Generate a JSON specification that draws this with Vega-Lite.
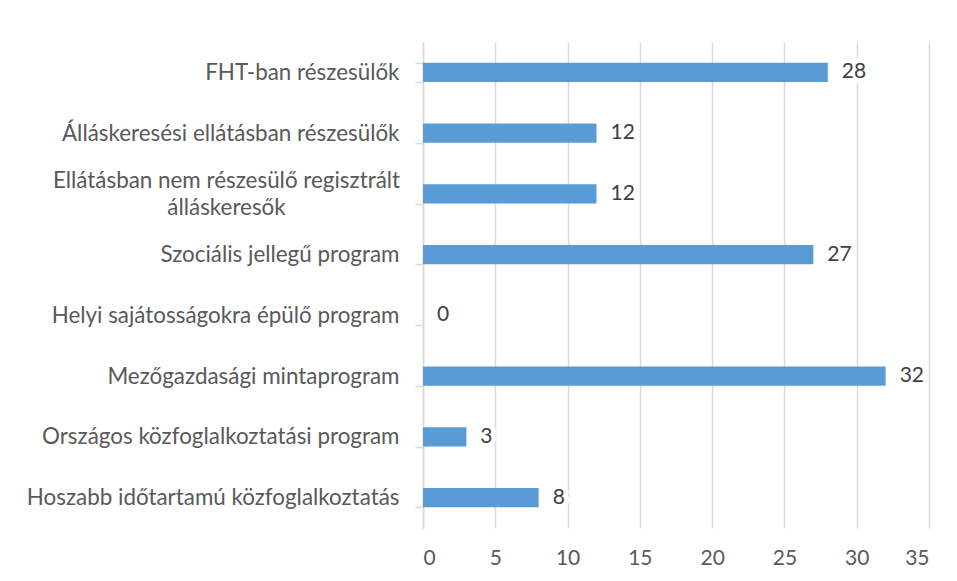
{
  "$schema": "https://vega.github.io/schema/vega-lite/v6.json",
  "width": 506,
  "height": 486,
  "autosize": {"type": "none"},
  "padding": {"left": 423, "top": 42, "right": 28, "bottom": 53},
  "background": "white",
  "config": {
    "view": {"stroke": null},
    "font": "Lato"
  },
  "data": {
    "values": [
      {"category": "FHT-ban részesülők", "value": 28},
      {"category": "Álláskeresési ellátásban részesülők", "value": 12},
      {"category": "Ellátásban nem részesülő regisztrált álláskeresők", "value": 12},
      {"category": "Szociális jellegű program", "value": 27},
      {"category": "Helyi sajátosságokra épülő program", "value": 0},
      {"category": "Mezőgazdasági mintaprogram", "value": 32},
      {"category": "Országos közfoglalkoztatási program", "value": 3},
      {"category": "Hoszabb időtartamú közfoglalkoztatás", "value": 8}
    ]
  },
  "encoding": {
    "y": {
      "field": "category",
      "type": "nominal",
      "sort": null,
      "scale": {"paddingInner": 0.68, "paddingOuter": 0.34},
      "axis": {
        "title": null,
        "domainColor": "#d9d9d9",
        "domainWidth": 1.5,
        "tickColor": "#d9d9d9",
        "tickWidth": 1.5,
        "tickSize": 8,
        "tickBand": "extent",
        "labelPadding": {"condition": {"test": "datum.value == 'Ellátásban nem részesülő regisztrált álláskeresők'", "value": 189}, "value": 16},
        "labelAlign": {"condition": {"test": "datum.value == 'Ellátásban nem részesülő regisztrált álláskeresők'", "value": "center"}, "value": "right"},
        "labelOffset": {"condition": {"test": "datum.value == 'Ellátásban nem részesülő regisztrált álláskeresők'", "value": -13}, "value": 0},
        "labelFontSize": 22.4,
        "labelColor": "#595959",
        "labelLimit": 420,
        "labelLineHeight": 27,
        "labelExpr": "datum.value == 'Ellátásban nem részesülő regisztrált álláskeresők' ? ['Ellátásban nem részesülő regisztrált', 'álláskeresők'] : datum.value"
      }
    }
  },
  "layer": [
    {
      "mark": {"type": "bar", "color": "#5b9bd5"},
      "encoding": {
        "x": {
          "field": "value",
          "type": "quantitative",
          "scale": {"domain": [0, 35], "nice": false},
          "axis": {
            "title": null,
            "values": [0, 5, 10, 15, 20, 25, 30, 35],
            "domain": false,
            "ticks": false,
            "grid": true,
            "gridColor": "#d9d9d9",
            "gridWidth": 1.5,
            "labelPadding": 19,
            "labelFontSize": 21,
            "labelColor": "#595959"
          }
        }
      }
    },
    {
      "mark": {"type": "text", "align": "left", "baseline": "middle", "dx": 14, "fontSize": 21, "stroke": "white", "strokeWidth": 10, "strokeJoin": "round", "fill": "white"},
      "encoding": {
        "x": {"field": "value", "type": "quantitative"},
        "text": {"field": "value", "type": "quantitative"}
      }
    },
    {
      "mark": {"type": "text", "align": "left", "baseline": "middle", "dx": 14, "fontSize": 21, "color": "#404040"},
      "encoding": {
        "x": {"field": "value", "type": "quantitative"},
        "text": {"field": "value", "type": "quantitative"}
      }
    }
  ]
}
